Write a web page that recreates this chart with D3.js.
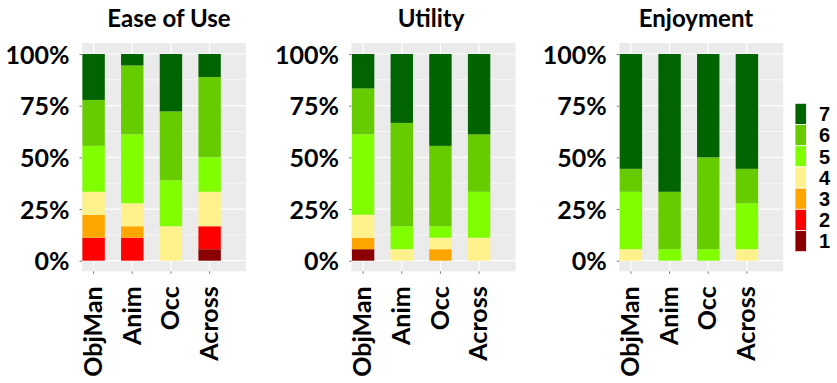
<!DOCTYPE html>
<html><head><meta charset="utf-8">
<script src="https://cdn.jsdelivr.net/npm/d3@7"></script>
<style>body{margin:0;background:#fff}svg{display:block}</style>
</head><body>
<script>
const categories = ["ObjMan", "Anim", "Occ", "Across"];
const levels = ["1", "2", "3", "4", "5", "6", "7"];
const levelColors = ["#8B0000", "#FF0000", "#FFA500", "#FFF28C", "#80FF00", "#66CC00", "#006400"];
const facetTitles = ["Ease of Use", "Utility", "Enjoyment"];
// counts of responses per level (1..7) for each category
const easeOfUse = [[0,2,2,2,4,4,4],[0,2,1,2,6,6,1],[0,0,0,3,4,6,5],[1,2,0,3,3,7,2]];
const utility   = [[1,0,1,2,7,4,3],[0,0,0,1,2,9,6],[0,0,1,1,1,7,8],[0,0,0,2,4,5,7]];
const enjoyment = [[0,0,0,1,5,2,10],[0,0,0,0,1,5,12],[0,0,0,0,1,8,9],[0,0,0,1,4,3,10]];
const yTicks = [0, 0.25, 0.5, 0.75, 1];
const yMinor = [0.125, 0.375, 0.625, 0.875];

const facetData = [easeOfUse, utility, enjoyment];
const W = 837, H = 383;
const svg = d3.select("body").append("svg").attr("width", W).attr("height", H);

const panelLefts = [82, 351.5, 619.3];
const panelTitleX = [169, 431, 696];
const panelW = 164;
const panelTop = 43, panelBottom = 271.3;
const y = d3.scaleLinear().domain([0, 1]).range([260.7, 54]);
const step = 38.67, barW = 22.4;
const fontMain = "Lato, 'Open Sans', sans-serif";

facetData.forEach((data, fi) => {
  const left = panelLefts[fi];
  const x = d3.scaleBand().domain(categories)
    .range([left + 0.4, left + 0.4 + 3 * step + barW])
    .paddingInner(1 - barW / step).paddingOuter(0);
  const g = svg.append("g");
  g.append("rect").attr("x", left).attr("y", panelTop)
    .attr("width", panelW).attr("height", panelBottom - panelTop).attr("fill", "#EBEBEB");
  g.selectAll(".minor").data(yMinor).join("line")
    .attr("x1", left).attr("x2", left + panelW)
    .attr("y1", d => y(d)).attr("y2", d => y(d))
    .attr("stroke", "#fff").attr("stroke-width", 0.6);
  g.selectAll(".major").data(yTicks).join("line")
    .attr("x1", left).attr("x2", left + panelW)
    .attr("y1", d => y(d)).attr("y2", d => y(d))
    .attr("stroke", "#fff").attr("stroke-width", 1.2);
  g.selectAll(".vgrid").data(categories).join("line")
    .attr("x1", d => x(d) + x.bandwidth() / 2).attr("x2", d => x(d) + x.bandwidth() / 2)
    .attr("y1", panelTop).attr("y2", panelBottom)
    .attr("stroke", "#fff").attr("stroke-width", 1.2);

  // stacked bars
  const rows = data.map((counts, ci) => {
    const total = d3.sum(counts);
    const o = { cat: categories[ci] };
    levels.forEach((l, li) => o[l] = counts[li] / total);
    return o;
  });
  const series = d3.stack().keys(levels)(rows);
  series.forEach((s, si) => {
    g.append("g").selectAll("rect").data(s.filter(d => d[1] - d[0] > 1e-9)).join("rect")
      .attr("x", d => x(d.data.cat)).attr("width", x.bandwidth())
      .attr("y", d => y(d[1])).attr("height", d => y(d[0]) - y(d[1]))
      .attr("fill", levelColors[si]);
  });

  // y axis
  const ya = g.append("g").attr("transform", `translate(${left},0)`)
    .call(d3.axisLeft(y).tickValues(yTicks).tickFormat(d3.format(".0%")).tickSize(2.5).tickPadding(10));
  ya.select(".domain").remove();
  ya.selectAll(".tick line").attr("stroke", "#555").attr("stroke-width", 0.8);
  ya.selectAll("text").attr("font-family", fontMain).attr("font-weight", "bold")
    .attr("font-size", 25).attr("fill", "#000").attr("dy", "0.36em");

  // x axis
  const xa = g.append("g").attr("transform", `translate(0,${panelBottom})`)
    .call(d3.axisBottom(x).tickSize(2.5).tickPadding(0));
  xa.select(".domain").remove();
  xa.selectAll(".tick line").attr("stroke", "#555").attr("stroke-width", 0.8);
  xa.selectAll("text").attr("font-family", fontMain).attr("font-weight", "bold")
    .attr("font-size", 25).attr("fill", "#000")
    .attr("text-anchor", "end").attr("y", 0).attr("dy", "0.33em")
    .attr("transform", "translate(0,15) rotate(-90)");

  g.append("text").attr("x", panelTitleX[fi]).attr("y", 27)
    .attr("text-anchor", "middle").attr("font-family", fontMain)
    .attr("font-weight", "bold").attr("font-size", 24).text(facetTitles[fi]);
});

// legend
const legendLevels = levels.slice().reverse();
const ly = d3.scaleBand().domain(legendLevels).range([103.3, 251.7]);
const lg = svg.append("g");
lg.selectAll("rect").data(legendLevels).join("rect")
  .attr("x", 795).attr("width", 11.5)
  .attr("y", d => ly(d)).attr("height", ly.bandwidth())
  .attr("fill", d => levelColors[levels.indexOf(d)])
  .attr("stroke", "#fff").attr("stroke-width", 0.8);
lg.selectAll("text").data(legendLevels).join("text")
  .attr("x", 819).attr("y", d => ly(d) + ly.bandwidth() / 2).attr("dy", "0.36em")
  .attr("font-family", "'Liberation Sans', Arial, sans-serif").attr("font-weight", "bold")
  .attr("font-size", 20).text(d => d);
</script>
</body></html>
